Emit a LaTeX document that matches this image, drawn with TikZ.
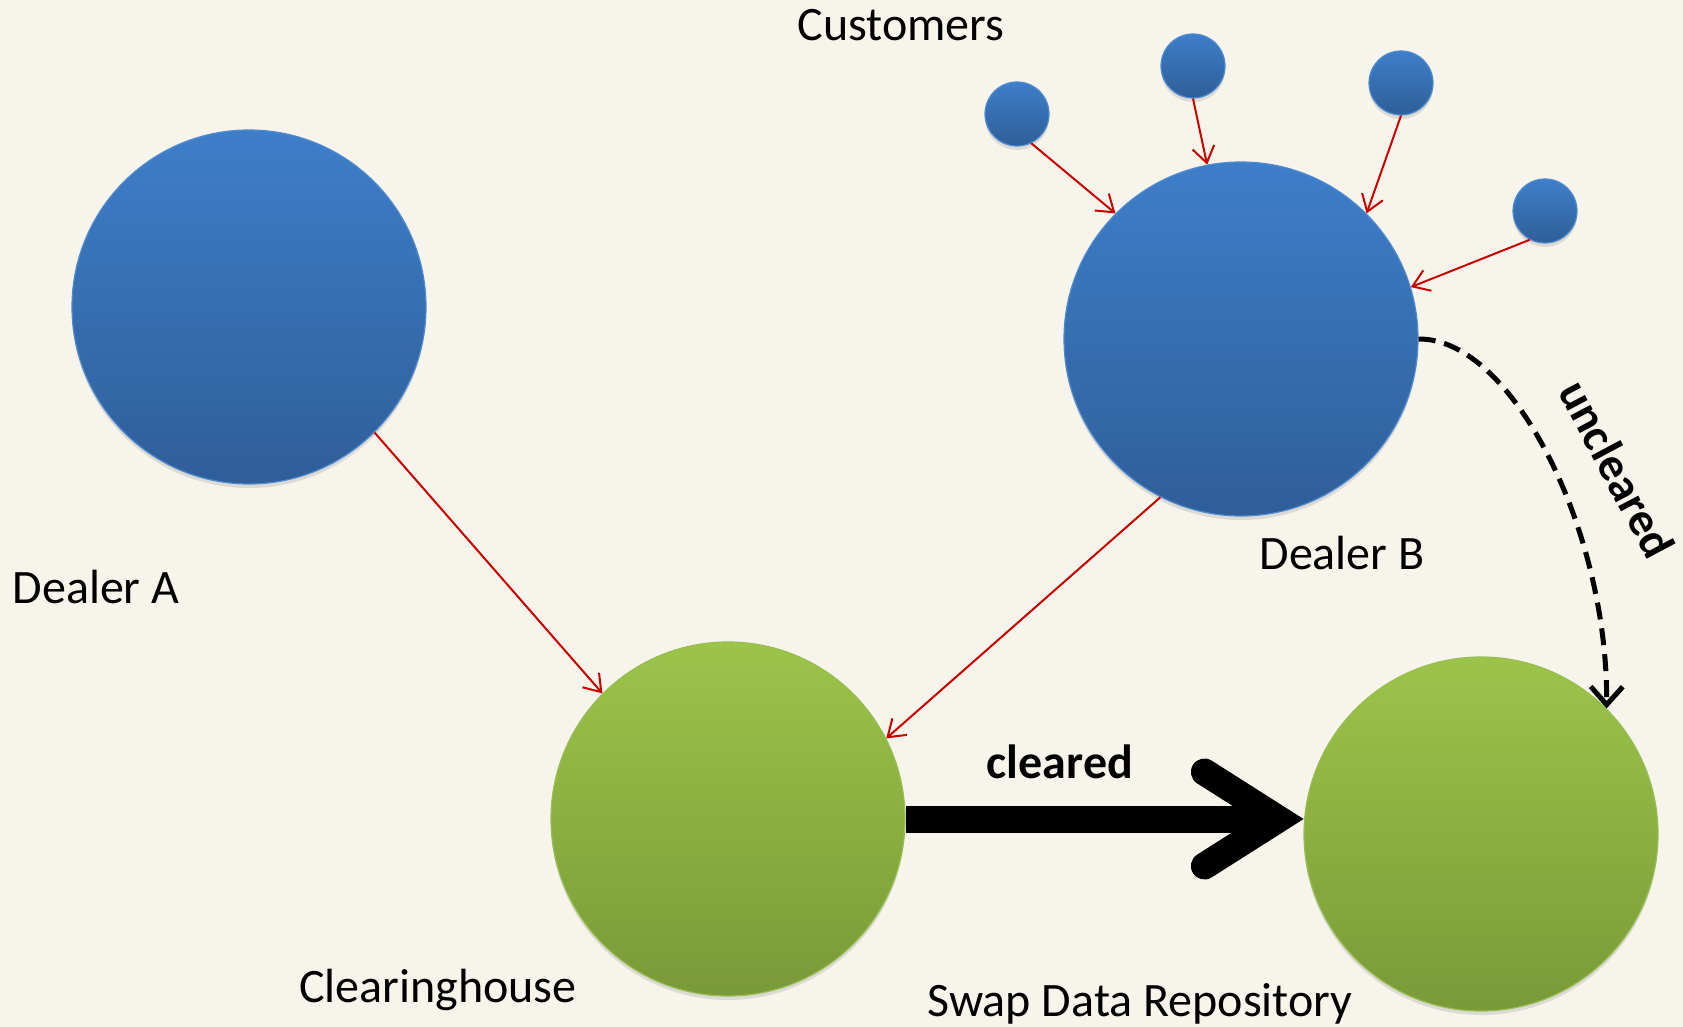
\documentclass[tikz,border=0pt]{standalone}
\usepackage{fontspec}
\setmainfont{Carlito}
\usetikzlibrary{arrows.meta,shadows}
\definecolor{bg}{RGB}{247,244,236}
\definecolor{bluetop}{RGB}{62,126,201}
\definecolor{bluebot}{RGB}{47,94,153}
\definecolor{blueedge}{RGB}{78,138,208}
\definecolor{greentop}{RGB}{156,196,74}
\definecolor{greenbot}{RGB}{121,154,56}
\definecolor{greenedge}{RGB}{150,190,80}
\definecolor{redline}{RGB}{200,0,0}
\begin{document}
\begin{tikzpicture}[x=1pt,y=-1pt,
  bignode/.style={circle, minimum size=354pt, inner sep=0pt},
  smallnode/.style={circle, minimum size=64pt, inner sep=0pt},
  softshadow/.style={drop shadow={shadow xshift=0pt, shadow yshift=-4pt, opacity=0.22}},
  bluefill/.style={softshadow, top color=bluetop, bottom color=bluebot, draw=blueedge, line width=1.2pt},
  greenfill/.style={softshadow, top color=greentop, bottom color=greenbot, draw=greenedge, line width=1.2pt},
  lbl/.style={font=\fontsize{48}{58}\selectfont, anchor=base, inner sep=0pt},
  redarrow/.style={draw=redline, line width=2pt, -{Straight Barb[length=16pt,width=22pt]}},
]
\useasboundingbox (0,0) rectangle (1683,1027);
\fill[bg] (0,0) rectangle (1683,1027);

% main circles
\node[bignode,bluefill] (A) at (249,307) {};
\node[bignode,bluefill] (B) at (1241,339) {};
\node[bignode,greenfill] (ch) at (728,819) {};
\node[bignode,greenfill] (sdr) at (1481,834) {};

% customers
\node[smallnode,bluefill] (c1) at (1017,114) {};
\node[smallnode,bluefill] (c2) at (1193,66) {};
\node[smallnode,bluefill] (c3) at (1401,83) {};
\node[smallnode,bluefill] (c4) at (1545,211) {};

% red arrows
\draw[redarrow] (c1.-64) -- (B.135);
\draw[redarrow] (c2.south) -- (B.101);
\draw[redarrow] (c3.south) -- (B.45);
\draw[redarrow] (c4.242) -- (B.17);
\draw[redarrow] (A.-45) -- (ch.135);
\draw[redarrow] (B.243) -- (ch.27);

% cleared arrow
\coordinate (apex) at ([xshift=-25pt]ch.east -| sdr.west);
\draw[line width=27pt] (ch.east) -- (apex);
\draw[line width=27pt, line cap=round, line join=miter]
  ([shift={(-74pt,47pt)}]apex) -- (apex) -- ([shift={(-74pt,-47pt)}]apex);

% uncleared arrow
\draw[line width=5pt, dash pattern=on 17pt off 9pt, -{Straight Barb[length=18pt,width=32pt]}]
  (B.east) .. controls (1512,338) and (1608,530) .. (sdr.45);

% labels
\node[lbl] (tcust) at (901,41) {Customers};
\node[lbl] (tA) at (96,603) {Dealer A};
\node[lbl] (tB) at (1342,569) {Dealer B};
\node[lbl] (tch) at (438,1002) {Clearinghouse};
\node[lbl] (tsdr) at (1140,1016) {Swap Data Repository};
\node[lbl, font=\fontsize{48}{58}\selectfont\bfseries] (tcl) at (1060,778) {cleared};
\node[font=\fontsize{47}{56}\selectfont\bfseries, inner sep=0pt, rotate=-62] (tun) at (1617,469) {uncleared};
\end{tikzpicture}
\end{document}
